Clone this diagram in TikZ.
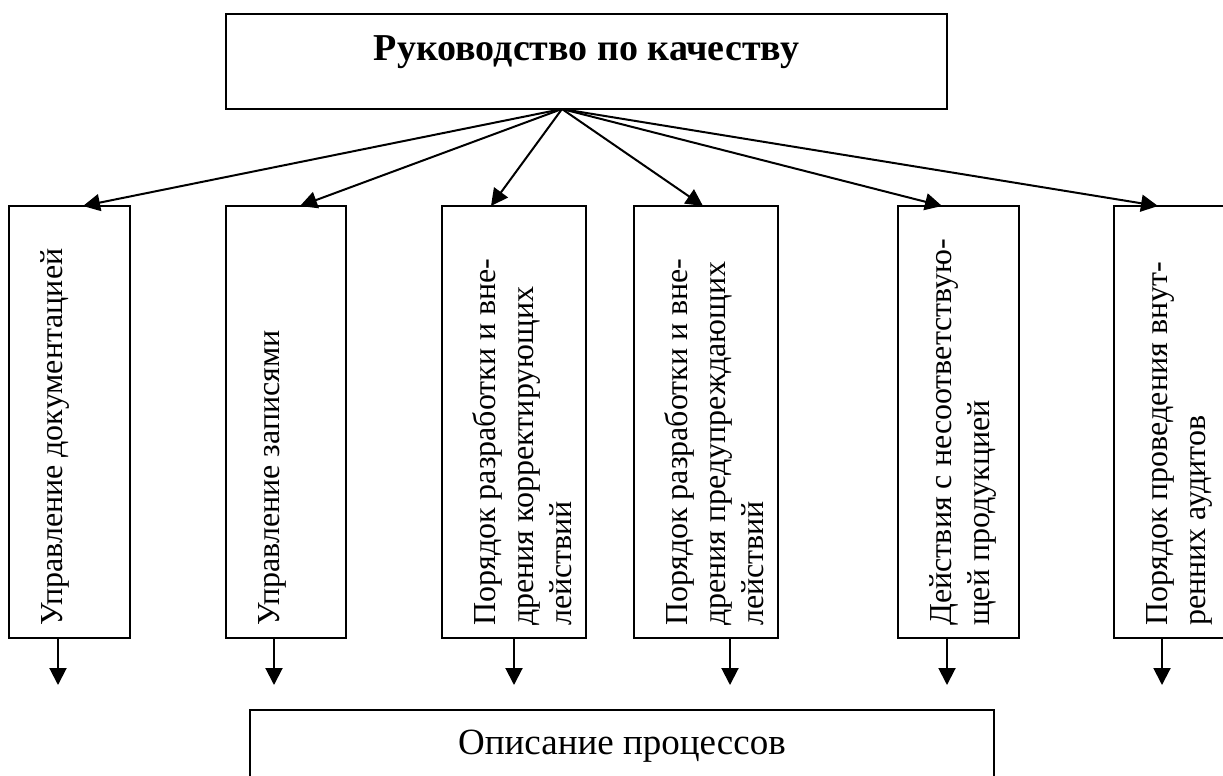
\documentclass[tikz,border=0pt]{standalone}
\usepackage{fontspec}
\setmainfont{Liberation Serif}
\usetikzlibrary{arrows.meta,calc}
\newcommand\lnstrut{\rule{0pt}{30pt}}
\begin{document}
\begin{tikzpicture}[x=1pt,y=-1pt,
  box/.style={draw,line width=2.5pt,inner sep=0pt,outer sep=0pt},
  col/.style={box,minimum height=432pt},
  arr/.style={line width=2pt,-{Triangle[length=17pt,width=17pt]}},
  vtext/.style={rotate=90,anchor=north west,inner sep=0pt,align=left,
    font=\fontsize{32}{38}\selectfont},
]
\useasboundingbox (0,0) rectangle (1223,776);

% top box
\node[box,minimum width=721pt,minimum height=95pt] (top) at (586.5,61.5) {};
\node[font=\fontsize{38}{44}\selectfont\bfseries,anchor=base] (toplabel) at (586.5,60) {Руководство по качеству};

% six procedure columns
\node[col,minimum width=121pt] (b1) at (69.5,422) {};
\node[col,minimum width=120pt] (b2) at (286,422) {};
\node[col,minimum width=144pt] (b3) at (514,422) {};
\node[col,minimum width=144pt] (b4) at (706,422) {};
\node[col,minimum width=121pt] (b5) at (958.5,422) {};
\node[col,minimum width=121pt] (b6) at (1174.5,422) {};

% column captions, read bottom to top
\node[vtext] (l1) at ($(b1.south west)+(23,-12)$) {\lnstrut Управление документацией};
\node[vtext] (l2) at ($(b2.south west)+(23,-12)$) {\lnstrut Управление записями};
\node[vtext] (l3) at ($(b3.south west)+(23,-12)$) {\lnstrut Порядок разработки и вне-\\дрения корректирующих\\лействий};
\node[vtext] (l4) at ($(b4.south west)+(23,-12)$) {\lnstrut Порядок разработки и вне-\\дрения предупреждающих\\лействий};
\node[vtext] (l5) at ($(b5.south west)+(23,-12)$) {\lnstrut Действия с несоответствую-\\щей продукцией};
\node[vtext] (l6) at ($(b6.south west)+(23,-12)$) {\lnstrut Порядок проведения внут-\\ренних аудитов};

% bottom box
\node[box,minimum width=744pt,minimum height=100pt,anchor=north west] (desc) at (250,710) {};
\node[font=\fontsize{37}{42}\selectfont,anchor=base] (desclabel) at (622,754) {Описание процессов};

% fan-out from the manual
\coordinate (hub) at ($(top.south west)+(336,0)$);
\foreach \b/\dx in {b1/74,b2/74,b3/49,b4/69,b5/44,b6/44}
  \draw[arr] (hub) -- ($(\b.north west)+(\dx,0)$);

% outgoing arrows below the columns
\foreach \b/\dx in {b1/49,b2/48,b3/72,b4/96,b5/49,b6/48}
  \draw[arr] ($(\b.south west)+(\dx,0)$) -- ($(\b.south west)+(\dx,47)$);
\end{tikzpicture}
\end{document}
